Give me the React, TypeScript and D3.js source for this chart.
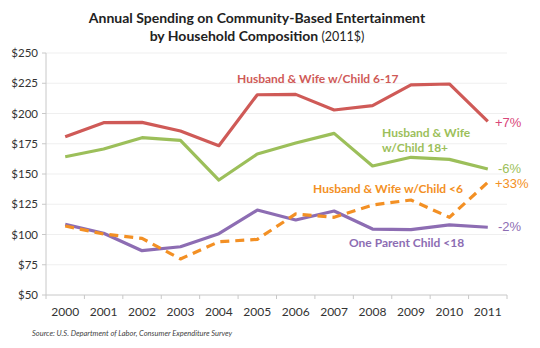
import React from "react";
import * as d3 from "d3";

const years = ["2000","2001","2002","2003","2004","2005","2006","2007","2008","2009","2010","2011"];
const child617 = [180.8,192.4,192.7,185.5,173.4,215.5,215.8,202.9,206.5,223.6,224.4,193.5];
const child18plus = [164.3,170.7,180.0,177.8,145.0,166.5,175.6,183.6,156.6,163.8,162.1,154.1];
const childUnder6 = [107.0,100.4,96.8,79.8,94.0,96.0,117.0,114.2,124.4,128.5,114.2,143.1];
const oneParent = [108.4,101.0,86.6,89.9,100.7,120.2,112.0,119.4,104.5,104.0,107.9,106.0];
const yTicks = [50,75,100,125,150,175,200,225,250];

const W = 540, H = 348;
const left = 46, right = 507, top = 53, bottom = 295;

export default function App() {
  const x = d3.scaleBand<string>().domain(years).range([left, right]);
  const y = d3.scaleLinear().domain([50, 250]).range([bottom, top]);
  const cx = (i: number) => (x(years[i]) as number) + x.bandwidth() / 2;
  const line = d3.line<number>().x((_, i) => cx(i)).y(d => y(d));

  const series = [
    { data: child617, color: "#cf5a57", dash: undefined },
    { data: child18plus, color: "#9cbf5a", dash: undefined },
    { data: oneParent, color: "#8d6db3", dash: undefined },
    { data: childUnder6, color: "#f39024", dash: "9,6" },
  ];
  const font = "Lato, 'Open Sans', sans-serif";
  const endFont = "'Liberation Sans', Arial, sans-serif";

  return (
    <svg width={W} height={H} style={{ position: "absolute", left: 0, top: 0, background: "#fff" }}>
      <text x={257} y={23} textAnchor="middle" fontFamily={font} fontWeight={700} fontSize={14} fill="#222">
        Annual Spending on Community-Based Entertainment
      </text>
      <text x={257} y={41} textAnchor="middle" fontFamily={font} fontSize={14} fill="#222">
        <tspan fontWeight={700}>by Household Composition</tspan>
        <tspan fontSize={12.5}> (2011$)</tspan>
      </text>

      {yTicks.map(t => (
        <g key={t}>
          {t > 50 && <line x1={left} x2={right} y1={y(t)} y2={y(t)} stroke="#efefef" strokeWidth={1} />}
          <line x1={left - 4} x2={left} y1={y(t)} y2={y(t)} stroke="#c8c8c8" />
          <text x={left - 8} y={y(t) + 4} textAnchor="end" fontFamily={font} fontSize={11.5} fill="#333">${t}</text>
        </g>
      ))}
      <line x1={left} x2={left} y1={top} y2={bottom} stroke="#c8c8c8" />
      <line x1={left} x2={right} y1={bottom} y2={bottom} stroke="#c8c8c8" />
      {years.map((yr, i) => (
        <g key={yr}>
          <line x1={x(yr) as number} x2={x(yr) as number} y1={bottom} y2={bottom + 4} stroke="#c8c8c8" />
          <text x={cx(i)} y={316} textAnchor="middle" fontFamily={font} fontSize={12} fill="#333">{yr}</text>
        </g>
      ))}
      <line x1={right} x2={right} y1={bottom} y2={bottom + 4} stroke="#c8c8c8" />

      {series.map((s, k) => (
        <path key={k} d={line(s.data) || ""} fill="none" stroke={s.color} strokeWidth={3.2}
          strokeDasharray={s.dash} strokeLinejoin="round" />
      ))}

      <text x={237} y={83} fontFamily={font} fontWeight={700} fontSize={12} fill="#cf5a57">Husband &amp; Wife w/Child 6-17</text>
      <text x={382} y={137} fontFamily={font} fontWeight={700} fontSize={12} fill="#9cbf5a">Husband &amp; Wife</text>
      <text x={382} y={152} fontFamily={font} fontWeight={700} fontSize={12} fill="#9cbf5a">w/Child 18+</text>
      <text x={313} y={193} fontFamily={font} fontWeight={700} fontSize={12} fill="#f39024">Husband &amp; Wife w/Child &lt;6</text>
      <text x={349} y={247} fontFamily={font} fontWeight={700} fontSize={12} fill="#8d6db3">One Parent Child &lt;18</text>

      <text x={495} y={127} fontFamily={endFont} fontSize={13} fill="#d9477a">+7%</text>
      <text x={498} y={173} fontFamily={endFont} fontSize={13} fill="#9cbf5a">-6%</text>
      <text x={495} y={188} fontFamily={endFont} fontSize={13} fill="#f39024">+33%</text>
      <text x={498} y={231} fontFamily={endFont} fontSize={13} fill="#8d6db3">-2%</text>

      <text x={32} y={336} fontFamily={font} fontStyle="italic" fontSize={7.5} fill="#444">
        Source: U.S. Department of Labor, Consumer Expenditure Survey
      </text>
    </svg>
  );
}
